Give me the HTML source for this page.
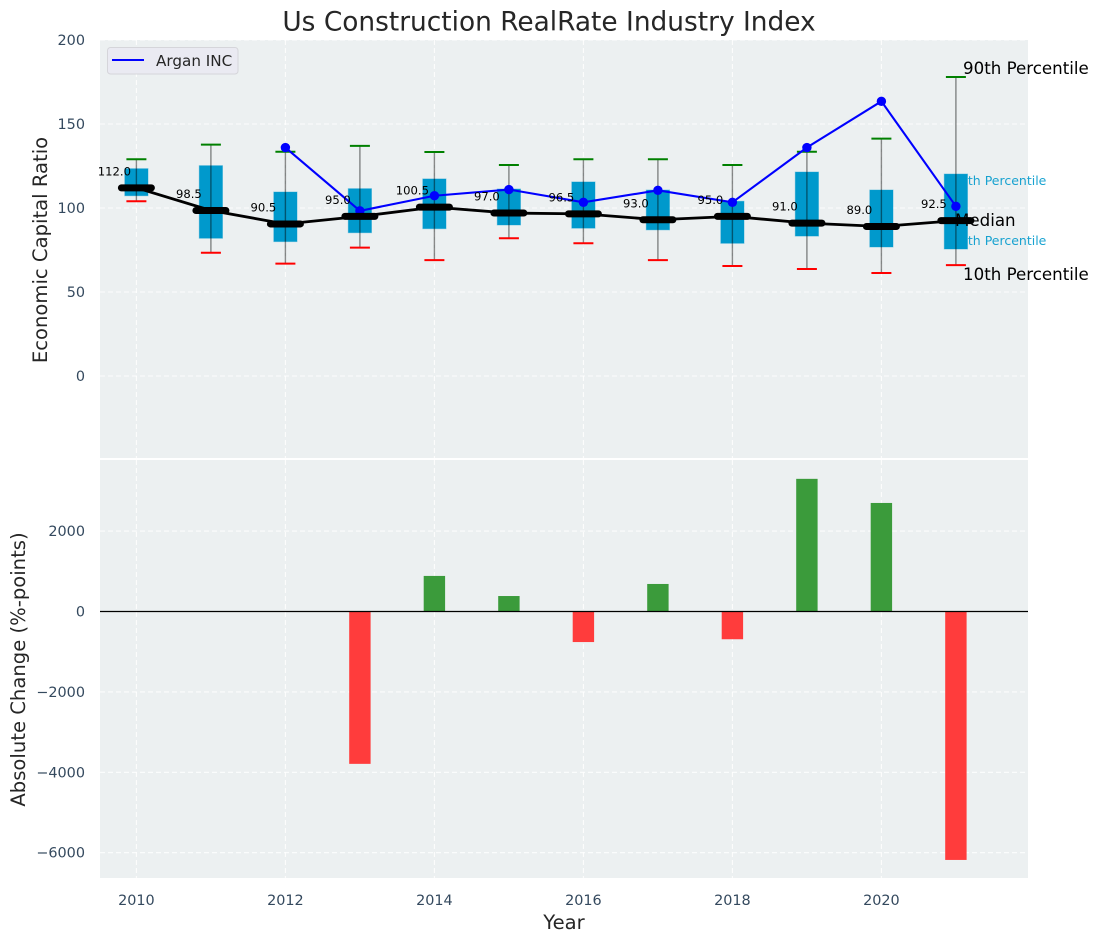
<!DOCTYPE html>
<html>
<head>
<meta charset="utf-8">
<title>Us Construction RealRate Industry Index</title>
<style>
html,body{margin:0;padding:0;background:#fff;}
svg{display:block;font-family:"DejaVu Sans","Liberation Sans",sans-serif;}
</style>
</head>
<body>
<svg id="chart" xmlns="http://www.w3.org/2000/svg" width="1098" height="942" viewBox="0 0 1098 942">
  <rect x="100" y="40" width="928" height="418" fill="#ecf0f1"/>
  <rect x="100" y="460" width="928" height="418" fill="#ecf0f1"/>
  <g id="grid"></g>
  <text x="952" y="185" font-size="12.5" fill="#0099cc" fill-opacity="0.9">75th Percentile</text>
  <text x="952" y="245" font-size="12.5" fill="#0099cc" fill-opacity="0.9">25th Percentile</text>
  <g id="boxes"></g>
  <g id="argan"></g>
  <g id="medians"></g>
  <g id="bars"></g>
  <g id="ticks" font-size="14.4" fill="#34495e"></g>
  <g id="medianLabels" font-size="11.6" fill="#000" text-anchor="middle"></g>

  <text x="549" y="30.5" font-size="26.4" fill="#262626" text-anchor="middle">Us Construction RealRate Industry Index</text>
  <text transform="translate(47,250) rotate(-90)" font-size="19.6" fill="#262626" text-anchor="middle">Economic Capital Ratio</text>
  <text transform="translate(25,669.5) rotate(-90)" font-size="19.6" fill="#262626" text-anchor="middle">Absolute Change (%-points)</text>
  <text x="564" y="929" font-size="19.6" fill="#262626" text-anchor="middle">Year</text>

  <text x="963" y="74" font-size="16.67" fill="#000">90th Percentile</text>
  <text x="955" y="226" font-size="16.67" fill="#000">Median</text>
  <text x="963" y="280" font-size="16.67" fill="#000">10th Percentile</text>

  <g>
    <rect x="107.5" y="47.5" width="130.5" height="26.5" rx="3" fill="#eaeaf2" stroke="#d5d5da" stroke-width="1"/>
    <line x1="112" x2="144" y1="60" y2="60" stroke="#0000ff" stroke-width="2.1"/>
    <text x="156" y="66" font-size="15.2" fill="#262626">Argan INC</text>
  </g>
</svg>
<script>
var years = [2010,2011,2012,2013,2014,2015,2016,2017,2018,2019,2020,2021];
var medianValues = [112.0,98.5,90.5,95.0,100.5,97.0,96.5,93.0,95.0,91.0,89.0,92.5];
var p90Values = [129,137.7,133.5,137,133.3,125.6,129,129,125.6,133.5,141.3,178];
var p75Values = [123.4,125.2,109.5,111.5,117.3,111.3,115.5,110.7,104,121.4,110.7,120.2];
var p25Values = [107.3,82,80,85.3,87.7,89.9,88,87,79,83.3,76.8,75.6];
var p10Values = [104,73.4,66.9,76.4,69,82,79,69,65.5,63.7,61.3,66];
var arganValues = [null,null,136,98.3,107.3,111,103.4,110.5,103.4,136,163.5,101];
var changeValues = [null,null,null,-3790,885,385,-760,685,-690,3300,2700,-6180];
var xTickLabels = [2010,2012,2014,2016,2018,2020];
var topTickLabels = [200,150,100,50,0];
var bottomTickLabels = [2000,0,-2000,-4000,-6000];

var NS = 'http://www.w3.org/2000/svg';
function xScale(v){ return 136.4 + (v - 2010) * 74.5; }
function yTop(v){ return 376 - v * 1.68; }
function yBottom(v){ return 611.5 - v * 0.0402; }
function make(tag, parentId, attrs){
  var el = document.createElementNS(NS, tag);
  for (var k in attrs) { el.setAttribute(k, attrs[k]); }
  document.getElementById(parentId).appendChild(el);
  return el;
}
function fmtTick(v){ return String(v).replace('-', '\u2212'); }

xTickLabels.forEach(function(t){
  [[40,458],[460,878]].forEach(function(r){
    var g = make('line','grid',{x1:xScale(t),x2:xScale(t),y1:r[0],y2:r[1],stroke:'#fff','stroke-width':1.1,'stroke-dasharray':'5 3','stroke-opacity':0.85});
    
    
  });
  var lab = make('text','ticks',{x:xScale(t),y:905,'text-anchor':'middle'});
  lab.textContent = t;
  
  
});
topTickLabels.forEach(function(t){
  var g = make('line','grid',{x1:100,x2:1028,y1:yTop(t),y2:yTop(t),stroke:'#fff','stroke-width':1.1,'stroke-dasharray':'5 3','stroke-opacity':0.85});
  
  
  var lab = make('text','ticks',{x:85,y:yTop(t)+5,'text-anchor':'end'});
  lab.textContent = fmtTick(t);
  
  
});
bottomTickLabels.forEach(function(t){
  var g = make('line','grid',{x1:100,x2:1028,y1:yBottom(t),y2:yBottom(t),stroke:'#fff','stroke-width':1.1,'stroke-dasharray':'5 3','stroke-opacity':0.85});
  
  
  var lab = make('text','ticks',{x:85,y:yBottom(t)+5,'text-anchor':'end'});
  lab.textContent = fmtTick(t);
  
  
});

years.forEach(function(yr,i){
  var x = xScale(yr);
  var box = make('rect','boxes',{x:x-11.6,width:23.2,y:yTop(p75Values[i]),height:yTop(p25Values[i])-yTop(p75Values[i]),fill:'#0099cc',stroke:'#0099cc','stroke-opacity':0.4,'stroke-width':1});
  
  
  var whisker = make('line','boxes',{x1:x,x2:x,y1:yTop(p10Values[i]),y2:yTop(p90Values[i]),stroke:'#000','stroke-opacity':0.45,'stroke-width':1.4});
  
  
  var capHigh = make('line','boxes',{x1:x-10,x2:x+10,y1:yTop(p90Values[i]),y2:yTop(p90Values[i]),stroke:'#008000','stroke-width':2});
  
  
  var capLow = make('line','boxes',{x1:x-10,x2:x+10,y1:yTop(p10Values[i]),y2:yTop(p10Values[i]),stroke:'#ff0000','stroke-width':2});
  
  

  var lab = make('text','medianLabels',{x:x-22,y:yTop(medianValues[i])-12.5});
  lab.textContent = medianValues[i].toFixed(1);
  
  

  if (changeValues[i] !== null) {
    var y0 = yBottom(0), y1 = yBottom(changeValues[i]);
    var bar = make('rect','bars',{x:x-10.7,width:21.4,y:Math.min(y0,y1),height:Math.abs(y1-y0),fill:changeValues[i]>=0?'#3b9b3b':'#ff3c3c'});
    
    
  }
});

var zero = make('line','bars',{x1:100,x2:1028,y1:yBottom(0),y2:yBottom(0),stroke:'#000','stroke-width':1.2});



var arganPts = [];
years.forEach(function(yr,i){
  if (arganValues[i] !== null) { arganPts.push(xScale(yr)+','+yTop(arganValues[i])); }
});
var arganLine = make('polyline','argan',{points:arganPts.join(' '),fill:'none',stroke:'#0000ff','stroke-width':2.1});


years.forEach(function(yr,i){
  if (arganValues[i] !== null) {
    var dot = make('circle','argan',{cx:xScale(yr),cy:yTop(arganValues[i]),r:4.7,fill:'#0000ff'});
    
    
  }
});

var medPts = years.map(function(yr,i){ return xScale(yr)+','+yTop(medianValues[i]); });
var medLine = make('polyline','medians',{points:medPts.join(' '),fill:'none',stroke:'#000','stroke-width':2.8});


years.forEach(function(yr,i){
  var x = xScale(yr), y = yTop(medianValues[i]);
  var m = make('line','medians',{x1:x-15,x2:x+15,y1:y,y2:y,stroke:'#000','stroke-width':7,'stroke-linecap':'round'});
  
  
});
</script>
</body>
</html>
